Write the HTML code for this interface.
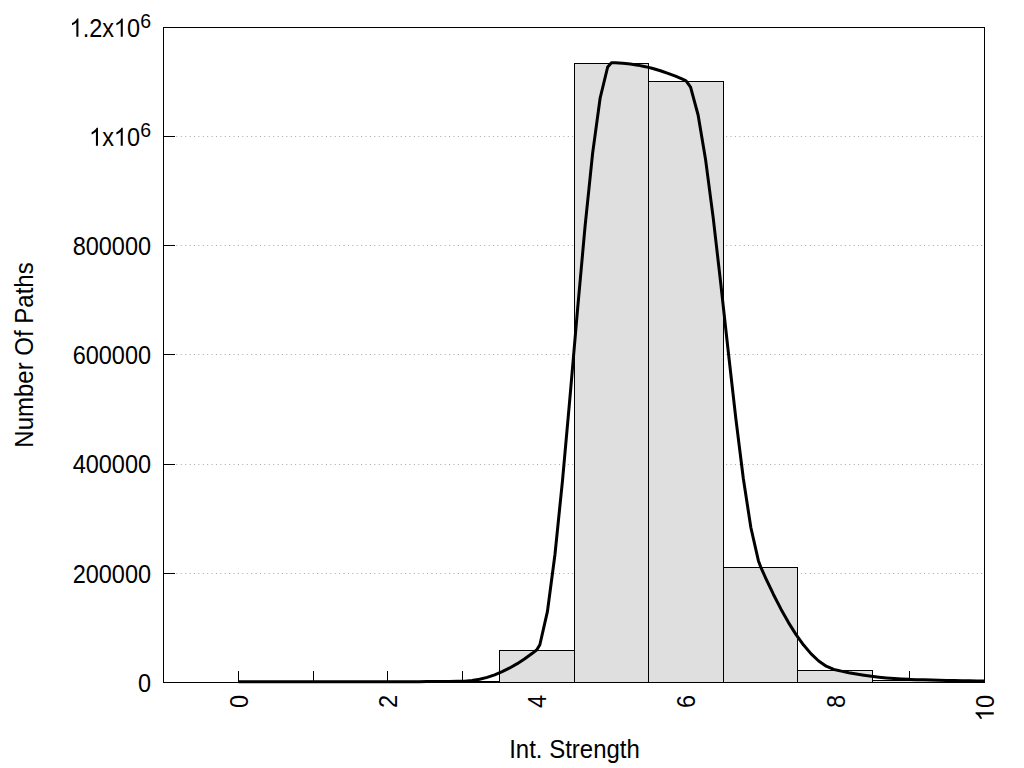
<!DOCTYPE html>
<html><head><meta charset="utf-8"><style>
html,body{margin:0;padding:0;background:#fff;overflow:hidden}
svg{display:block}
text{font-family:"Liberation Sans",sans-serif;fill:#000}
.t{font-size:23.5px}
.l{font-size:24px}
</style></head><body>
<svg width="1024" height="768" viewBox="0 0 1024 768">
<rect width="1024" height="768" fill="#fff"/>
<rect x="163.5" y="27.5" width="821.0" height="655.0" fill="none" stroke="#000" stroke-width="1"/>
<line x1="163.5" y1="573.5" x2="984.0" y2="573.5" stroke="#a8a8a8" stroke-width="1" stroke-dasharray="1 3.398" stroke-dashoffset="0.3"/>
<line x1="163.5" y1="464.5" x2="984.0" y2="464.5" stroke="#a8a8a8" stroke-width="1" stroke-dasharray="1 3.398" stroke-dashoffset="0.3"/>
<line x1="163.5" y1="354.5" x2="984.0" y2="354.5" stroke="#a8a8a8" stroke-width="1" stroke-dasharray="1 3.398" stroke-dashoffset="0.3"/>
<line x1="163.5" y1="245.5" x2="984.0" y2="245.5" stroke="#a8a8a8" stroke-width="1" stroke-dasharray="1 3.398" stroke-dashoffset="0.3"/>
<line x1="163.5" y1="136.5" x2="984.0" y2="136.5" stroke="#a8a8a8" stroke-width="1" stroke-dasharray="1 3.398" stroke-dashoffset="0.3"/>
<line x1="163.0" y1="682.5" x2="175" y2="682.5" stroke="#000" stroke-width="1"/>
<line x1="163.0" y1="573.5" x2="175" y2="573.5" stroke="#000" stroke-width="1"/>
<line x1="163.0" y1="464.5" x2="175" y2="464.5" stroke="#000" stroke-width="1"/>
<line x1="163.0" y1="354.5" x2="175" y2="354.5" stroke="#000" stroke-width="1"/>
<line x1="163.0" y1="245.5" x2="175" y2="245.5" stroke="#000" stroke-width="1"/>
<line x1="163.0" y1="136.5" x2="175" y2="136.5" stroke="#000" stroke-width="1"/>
<line x1="163.0" y1="27.5" x2="175" y2="27.5" stroke="#000" stroke-width="1"/>
<line x1="238.5" y1="683.0" x2="238.5" y2="671" stroke="#000" stroke-width="1"/>
<line x1="313.5" y1="683.0" x2="313.5" y2="671" stroke="#000" stroke-width="1"/>
<line x1="387.5" y1="683.0" x2="387.5" y2="671" stroke="#000" stroke-width="1"/>
<line x1="462.5" y1="683.0" x2="462.5" y2="671" stroke="#000" stroke-width="1"/>
<line x1="536.5" y1="683.0" x2="536.5" y2="671" stroke="#000" stroke-width="1"/>
<line x1="611.5" y1="683.0" x2="611.5" y2="671" stroke="#000" stroke-width="1"/>
<line x1="686.5" y1="683.0" x2="686.5" y2="671" stroke="#000" stroke-width="1"/>
<line x1="760.5" y1="683.0" x2="760.5" y2="671" stroke="#000" stroke-width="1"/>
<line x1="835.5" y1="683.0" x2="835.5" y2="671" stroke="#000" stroke-width="1"/>
<line x1="909.5" y1="683.0" x2="909.5" y2="671" stroke="#000" stroke-width="1"/>
<line x1="984.5" y1="683.0" x2="984.5" y2="671" stroke="#000" stroke-width="1"/>
<rect x="424.5" y="681.5" width="75.0" height="1.0" fill="#dfdfdf" stroke="#000" stroke-width="1"/>
<rect x="499.5" y="650.5" width="75.0" height="32.0" fill="#dfdfdf" stroke="#000" stroke-width="1"/>
<rect x="574.5" y="63.5" width="74.0" height="619.0" fill="#dfdfdf" stroke="#000" stroke-width="1"/>
<rect x="648.5" y="81.5" width="75.0" height="601.0" fill="#dfdfdf" stroke="#000" stroke-width="1"/>
<rect x="723.5" y="567.5" width="74.0" height="115.0" fill="#dfdfdf" stroke="#000" stroke-width="1"/>
<rect x="797.5" y="670.5" width="75.0" height="12.0" fill="#dfdfdf" stroke="#000" stroke-width="1"/>
<rect x="872.5" y="680.5" width="75.0" height="2.0" fill="#dfdfdf" stroke="#000" stroke-width="1"/>
<rect x="163.5" y="27.5" width="821.0" height="655.0" fill="none" stroke="#000" stroke-width="1"/>
<polyline transform="translate(0,-0.7)" points="238.45,682.50 238.45,682.50 245.99,682.50 253.52,682.50 261.06,682.50 268.59,682.50 276.13,682.50 283.66,682.50 291.20,682.50 298.73,682.50 306.27,682.50 313.05,682.50 313.80,682.50 321.34,682.50 328.87,682.50 336.41,682.50 343.94,682.50 351.48,682.49 359.02,682.49 366.55,682.49 374.09,682.48 381.62,682.48 387.65,682.47 389.16,682.47 396.69,682.46 404.23,682.44 411.76,682.41 419.30,682.37 426.83,682.32 434.37,682.26 441.90,682.19 449.44,682.11 456.98,682.02 462.25,681.95 464.51,681.89 472.05,681.26 479.58,679.98 487.12,678.07 494.65,675.54 502.19,672.40 509.72,668.66 517.26,664.34 524.79,659.46 532.33,654.02 536.85,650.50 539.86,645.48 547.40,612.38 554.93,555.43 562.47,481.51 570.01,397.53 577.54,310.36 585.08,226.90 592.61,154.05 600.15,98.68 607.68,67.70 611.45,63.50 615.22,63.55 622.75,63.94 630.29,64.71 637.82,65.85 645.36,67.36 652.89,69.23 660.43,71.45 667.97,74.01 675.50,76.90 683.04,80.12 686.05,81.50 690.57,87.91 698.11,115.70 705.64,160.77 713.18,218.36 720.71,283.75 728.25,352.17 735.78,418.89 743.32,479.16 750.85,528.24 758.39,561.38 760.65,567.50 765.92,579.27 773.46,595.16 781.00,609.87 788.53,623.29 796.07,635.29 803.60,645.76 811.14,654.59 818.67,661.67 826.21,666.88 833.74,670.10 835.25,670.50 841.28,671.86 848.81,673.40 856.35,674.76 863.88,675.95 871.42,676.99 878.96,677.88 886.49,678.62 894.03,679.23 901.56,679.71 909.10,680.07 909.85,680.10 916.63,680.34 924.17,680.57 931.70,680.77 939.24,680.94 946.77,681.09 954.31,681.22 961.84,681.35 969.38,681.49 976.91,681.63 984.45,681.79 984.45,681.79" fill="none" stroke="#000" stroke-width="3.0" stroke-linejoin="round" stroke-linecap="butt"/>
<text id="t1" transform="translate(151.00,691.70) scale(1,1.08)" text-anchor="end" class="t">0</text>
<text id="t2" transform="translate(151.00,582.53) scale(1,1.08)" text-anchor="end" class="t">200000</text>
<text id="t3" transform="translate(151.00,473.37) scale(1,1.08)" text-anchor="end" class="t">400000</text>
<text id="t4" transform="translate(151.00,364.20) scale(1,1.08)" text-anchor="end" class="t">600000</text>
<text id="t5" transform="translate(151.00,255.03) scale(1,1.08)" text-anchor="end" class="t">800000</text>
<text id="t6" transform="translate(151.00,145.87) scale(1,1.08)" text-anchor="end" class="t"> x 0<tspan dy="-8.5" font-size="19.5px">6</tspan></text>
<text id="t7" transform="translate(151.00,36.70) scale(1,1.08)" text-anchor="end" class="t"> .2x 0<tspan dy="-8.5" font-size="19.5px">6</tspan></text>
<text id="t8" transform="translate(247.75,695.00) rotate(-90) scale(1,1.08)" text-anchor="end" class="t">0</text>
<text id="t9" transform="translate(396.95,695.00) rotate(-90) scale(1,1.08)" text-anchor="end" class="t">2</text>
<text id="t10" transform="translate(546.15,695.00) rotate(-90) scale(1,1.08)" text-anchor="end" class="t">4</text>
<text id="t11" transform="translate(695.35,695.00) rotate(-90) scale(1,1.08)" text-anchor="end" class="t">6</text>
<text id="t12" transform="translate(844.55,695.00) rotate(-90) scale(1,1.08)" text-anchor="end" class="t">8</text>
<text id="t13" transform="translate(993.75,695.00) rotate(-90) scale(1,1.08)" text-anchor="end" class="t"> 0</text>
<text id="t14" transform="translate(574.50,757.50) scale(1,1.08)" text-anchor="middle" class="l">Int. Strength</text>
<text id="t15" transform="translate(32.50,355.00) rotate(-90) scale(1,1.08)" text-anchor="middle" class="l">Number Of Paths</text>
<path transform="translate(151.00,145.87) scale(1,1.08) translate(-61.763,0.000) scale(0.011475,-0.011475)" d="M763 0L583 0L583 1147Q518 1085 412 1023Q307 961 205 925L205 1102Q374 1175 487 1276Q600 1377 647 1466L763 1466Z"/>
<path transform="translate(151.00,145.87) scale(1,1.08) translate(-36.977,0.000) scale(0.011475,-0.011475)" d="M763 0L583 0L583 1147Q518 1085 412 1023Q307 961 205 925L205 1102Q374 1175 487 1276Q600 1377 647 1466L763 1466Z"/>
<path transform="translate(151.00,36.70) scale(1,1.08) translate(-81.340,0.000) scale(0.011475,-0.011475)" d="M763 0L583 0L583 1147Q518 1085 412 1023Q307 961 205 925L205 1102Q374 1175 487 1276Q600 1377 647 1466L763 1466Z"/>
<path transform="translate(151.00,36.70) scale(1,1.08) translate(-36.962,0.000) scale(0.011475,-0.011475)" d="M763 0L583 0L583 1147Q518 1085 412 1023Q307 961 205 925L205 1102Q374 1175 487 1276Q600 1377 647 1466L763 1466Z"/>
<path transform="translate(993.75,695.00) rotate(-90) scale(1,1.08) translate(-26.123,0.000) scale(0.011475,-0.011475)" d="M763 0L583 0L583 1147Q518 1085 412 1023Q307 961 205 925L205 1102Q374 1175 487 1276Q600 1377 647 1466L763 1466Z"/>
</svg>
</body></html>
